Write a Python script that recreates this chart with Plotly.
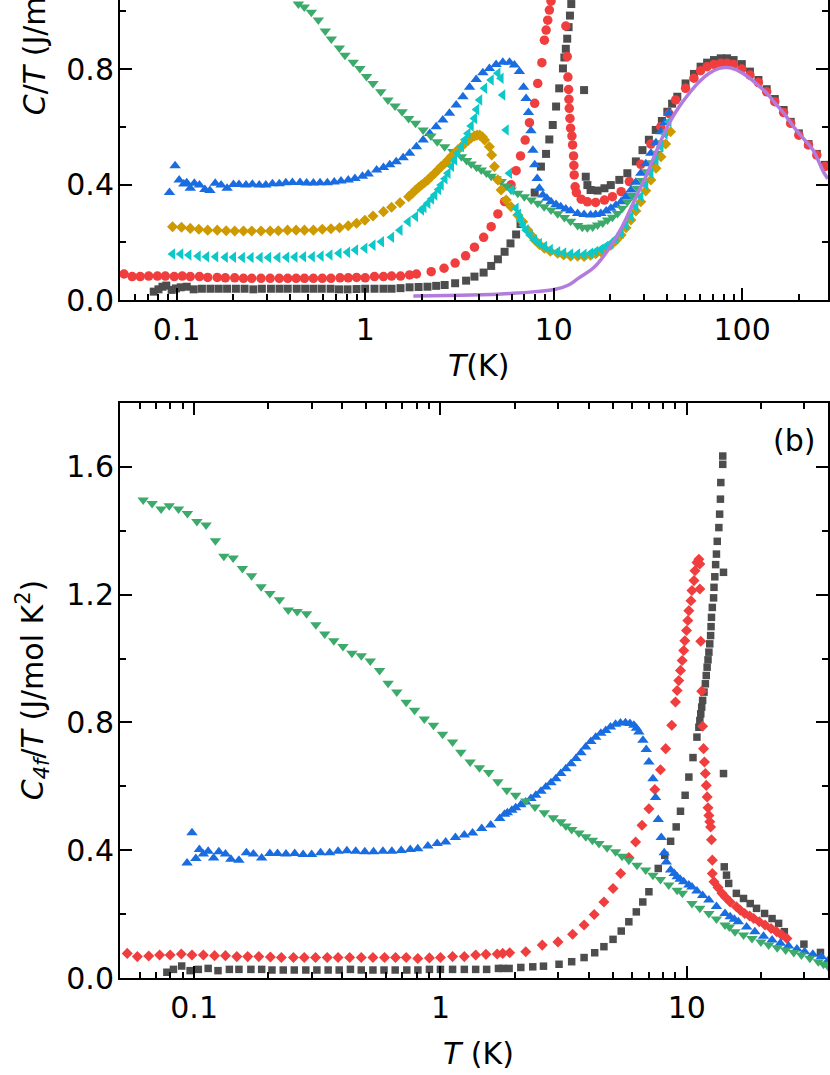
import numpy as np
import plotly.graph_objects as go

GRAY = "#4D4D4D"
RED = "#F03E3E"
BLUE = "#1A6DE0"
GREEN = "#3BAA6A"
GOLD = "#CE9A00"
CYAN = "#0CC8C8"
PURPLE = "#B27BDE"
FONT = "DejaVu Sans, Arial, sans-serif"

# ---- panel (a): C/T vs T ----
gray_a_T = [0.0755, 0.080, 0.084, 0.088, 0.094, 0.099, 0.105, 0.113, 0.123, 0.136, 0.151, 0.167,
            0.185, 0.206, 0.229, 0.255, 0.283, 0.316, 0.351, 0.388, 0.433, 0.480, 0.531, 0.588,
            0.655, 0.726, 0.806, 0.90, 1.0, 1.12, 1.25, 1.38, 1.54, 1.72, 1.92, 2.14, 2.38, 2.64,
            3.0, 3.43, 3.80, 4.25, 4.66, 5.06, 5.49, 5.90, 6.32, 6.67, 7.93, 8.56, 9.11, 9.48,
            9.89, 10.3, 10.7, 11.2, 11.4, 11.6, 11.8, 12.0, 12.2, 12.4, 14.5,
            14.8, 15.1, 15.7, 17.1, 18.6, 20.1, 22.3, 24.6, 27.3, 29.6, 32.0, 34.8, 37.5, 40.1,
            42.5, 45.3, 50.1, 55.5, 60.2, 65.2, 70.9, 77.0, 83.2, 90.1, 99.6, 110, 122, 135, 149,
            166, 181, 200, 225, 249, 275]
gray_a_C = [0.029, 0.037, 0.046, 0.050, 0.035, 0.040, 0.044, 0.046, 0.037, 0.039, 0.039, 0.039,
            0.039, 0.039, 0.039, 0.037, 0.039, 0.039, 0.039, 0.039, 0.039, 0.039, 0.039, 0.039,
            0.039, 0.037, 0.037, 0.038, 0.039, 0.039, 0.039, 0.039, 0.041, 0.044, 0.045, 0.046,
            0.049, 0.052, 0.058, 0.067, 0.081, 0.095, 0.118, 0.141, 0.167, 0.196, 0.227, 0.263,
            0.372, 0.462, 0.506, 0.556, 0.606, 0.670, 0.733, 0.802, 0.840, 0.870, 0.905, 0.945,
            0.985, 1.025, 0.727,
            0.427, 0.398, 0.381, 0.379, 0.387, 0.398, 0.416, 0.439, 0.480, 0.519, 0.555, 0.589,
            0.620, 0.652, 0.680, 0.704, 0.750, 0.783, 0.808, 0.822, 0.831, 0.837, 0.837, 0.831,
            0.817, 0.791, 0.762, 0.730, 0.696, 0.658, 0.617, 0.577, 0.540, 0.506, 0.468]

red_a_T = [0.0525, 0.058, 0.064, 0.071, 0.079, 0.087, 0.097, 0.107, 0.118, 0.132, 0.146, 0.164,
           0.181, 0.203, 0.226, 0.250, 0.280, 0.313, 0.350, 0.388, 0.430, 0.476, 0.531, 0.592,
           0.658, 0.735, 0.813, 0.90, 1.0, 1.12, 1.25, 1.38, 1.54, 1.72, 1.87, 2.24, 2.62, 3.0,
           3.41, 3.80, 4.25, 4.66, 5.06, 5.49, 5.94, 6.32, 6.67, 7.06, 7.44, 7.93, 8.23, 8.66,
           8.93, 9.12, 9.30, 9.49, 9.68,
           11.6, 11.8, 11.9, 12.0, 12.05, 12.1, 12.2, 12.3, 12.5, 12.6, 12.75, 12.8, 12.85, 13.0,
           13.2, 14.0, 15.1, 16.7, 18.6, 20.5, 22.8, 25.2, 29.0, 32.8, 37.0, 41.0, 44.4, 50.1,
           55.5, 60.2, 65.2, 70.9, 77.0, 83.2, 90.1, 99.6, 110, 122, 135, 149, 166, 181, 200,
           225, 249, 275]
red_a_C = [0.090, 0.081, 0.081, 0.083, 0.083, 0.083, 0.081, 0.083, 0.081, 0.081, 0.078, 0.078,
           0.077, 0.077, 0.075, 0.075, 0.075, 0.075, 0.075, 0.075, 0.075, 0.075, 0.075, 0.075,
           0.075, 0.077, 0.077, 0.078, 0.077, 0.081, 0.081, 0.083, 0.083, 0.087, 0.090, 0.098,
           0.110, 0.128, 0.153, 0.183, 0.217, 0.254, 0.298, 0.341, 0.399, 0.448, 0.499, 0.554,
           0.614, 0.681, 0.750, 0.822, 0.900, 0.935, 0.969, 1.004, 1.035,
           0.949, 0.843, 0.772, 0.729, 0.695, 0.664, 0.629, 0.595, 0.568, 0.537, 0.499, 0.466,
           0.433, 0.392, 0.372, 0.349, 0.340, 0.338, 0.346, 0.358, 0.375, 0.410, 0.470, 0.540,
           0.600, 0.645, 0.693, 0.733, 0.768, 0.794, 0.808, 0.816, 0.820, 0.820, 0.816, 0.800,
           0.779, 0.753, 0.721, 0.687, 0.649, 0.612, 0.571, 0.537, 0.502, 0.462]

blue_a_T = [0.0915, 0.098, 0.103, 0.109, 0.113, 0.118, 0.124, 0.132, 0.141, 0.150, 0.160, 0.172,
            0.185, 0.200, 0.214, 0.233, 0.252, 0.274, 0.297, 0.322, 0.350, 0.379, 0.411, 0.451,
            0.489, 0.531, 0.576, 0.630, 0.685, 0.744, 0.813, 0.882, 0.967, 1.037, 1.15, 1.25,
            1.35, 1.46, 1.59, 1.72, 1.87, 2.03, 2.20, 2.38, 2.58, 2.80, 3.04, 3.30, 3.58, 3.88,
            4.21, 4.56, 4.95, 5.37, 5.83, 6.19, 6.58, 6.92, 7.14, 7.35, 7.58, 7.76, 7.93, 8.17,
            8.40, 8.76, 9.2, 9.68, 10.3, 10.9, 11.6, 12.3, 13.4, 14.5, 15.7, 16.7, 17.8, 19.0,
            20.1, 21.4, 22.8, 24.2, 25.7, 27.3, 29.0, 30.8, 32.8, 34.9, 37.1, 39.0, 40.9]
blue_a_C = [0.372, 0.465, 0.416, 0.402, 0.406, 0.387, 0.404, 0.398, 0.383, 0.379, 0.404, 0.398,
            0.387, 0.400, 0.400, 0.398, 0.401, 0.398, 0.398, 0.403, 0.403, 0.406, 0.407, 0.407,
            0.405, 0.405, 0.406, 0.406, 0.409, 0.412, 0.416, 0.421, 0.429, 0.436, 0.450, 0.459,
            0.468, 0.479, 0.493, 0.508, 0.531, 0.554, 0.577, 0.600, 0.623, 0.647, 0.675, 0.704,
            0.737, 0.764, 0.787, 0.802, 0.816, 0.823, 0.823, 0.814, 0.791, 0.737, 0.698, 0.649,
            0.586, 0.519, 0.468, 0.421, 0.387, 0.364, 0.352, 0.340, 0.331, 0.323, 0.315, 0.309,
            0.300, 0.296, 0.294, 0.296, 0.300, 0.308, 0.318, 0.328, 0.340, 0.358, 0.381, 0.408,
            0.439, 0.472, 0.508, 0.545, 0.583, 0.615, 0.647]

green_a_T = [0.442, 0.475, 0.518, 0.564, 0.614, 0.661, 0.729, 0.781, 0.864, 0.937, 1.016, 1.10,
             1.21, 1.32, 1.44, 1.57, 1.70, 1.85, 2.03, 2.23, 2.41, 2.64, 2.92, 3.24, 3.45, 3.65,
             3.9, 4.13, 4.4, 4.66, 4.95, 5.26, 5.6, 5.94, 6.45, 6.99, 7.6, 8.23, 8.9, 9.68, 10.5,
             11.4, 12.3, 13.4, 14.2, 15.1, 16.1, 17.1, 18.2, 19.3, 20.5, 21.8, 23.1, 24.6, 26.1,
             27.8, 29.5, 31.4, 33.4, 35.5, 37.7, 40.1]
green_a_C = [1.025, 1.015, 0.997, 0.970, 0.932, 0.904, 0.873, 0.848, 0.823, 0.802, 0.774, 0.750,
             0.721, 0.693, 0.672, 0.652, 0.629, 0.612, 0.589, 0.568, 0.548, 0.531, 0.514, 0.496,
             0.483, 0.471, 0.460, 0.450, 0.440, 0.429, 0.420, 0.410, 0.395, 0.381, 0.370, 0.358,
             0.346, 0.335, 0.323, 0.312, 0.299, 0.286, 0.273, 0.258, 0.252, 0.250, 0.253, 0.260,
             0.267, 0.277, 0.287, 0.300, 0.318, 0.340, 0.362, 0.387, 0.414, 0.444, 0.475, 0.508,
             0.545, 0.583]

gold_a_T = [0.095, 0.106, 0.118, 0.131, 0.146, 0.164, 0.183, 0.203, 0.226, 0.250, 0.280, 0.313,
            0.346, 0.387, 0.430, 0.476, 0.531, 0.592, 0.658, 0.731, 0.813, 0.900, 0.996, 1.10,
            1.25, 1.38, 1.53, 1.70, 1.78, 1.85, 1.92, 1.99, 2.07, 2.15, 2.24, 2.34, 2.43, 2.53,
            2.64, 2.75, 2.86, 2.98, 3.1, 3.24, 3.37, 3.51, 3.65, 3.80, 3.92, 4.05, 4.18, 4.30,
            4.56, 4.69, 4.85, 5.06, 5.26, 5.60, 5.94, 6.45, 6.85, 7.29, 7.6, 7.93, 8.4, 8.93, 9.6,
            10.5, 11.3, 12.3, 13.4, 14.5, 15.7, 16.7, 17.8, 18.9, 20.1, 21.4, 22.8, 24.2, 25.7,
            27.3, 29.0, 30.8, 32.8, 34.9, 37.1, 39.3, 41.7]
gold_a_C = [0.254, 0.252, 0.248, 0.245, 0.242, 0.242, 0.240, 0.239, 0.239, 0.239, 0.239, 0.239,
            0.240, 0.242, 0.242, 0.242, 0.242, 0.245, 0.247, 0.250, 0.257, 0.266, 0.276, 0.291,
            0.306, 0.321, 0.337, 0.358, 0.370, 0.381, 0.390, 0.398, 0.407, 0.416, 0.428, 0.439,
            0.450, 0.462, 0.473, 0.485, 0.497, 0.508, 0.520, 0.531, 0.542, 0.552, 0.561, 0.568,
            0.571, 0.571, 0.565, 0.554, 0.531, 0.502, 0.462, 0.416, 0.381, 0.346, 0.323, 0.294,
            0.271, 0.242, 0.224, 0.208, 0.192, 0.179, 0.169, 0.162, 0.156, 0.152, 0.152, 0.151,
            0.155, 0.160, 0.167, 0.178, 0.190, 0.206, 0.225, 0.250, 0.277, 0.308, 0.340, 0.378,
            0.416, 0.456, 0.496, 0.540, 0.583]

cyan_a_T = [0.095, 0.105, 0.116, 0.130, 0.144, 0.161, 0.181, 0.200, 0.223, 0.248, 0.277, 0.307,
            0.344, 0.383, 0.424, 0.471, 0.524, 0.583, 0.650, 0.726, 0.806, 0.889, 0.996, 1.10,
            1.22, 1.38, 1.53, 1.69, 1.85, 1.99, 2.05, 2.15, 2.25, 2.34, 2.45, 2.53, 2.65, 2.75,
            2.87, 2.98, 3.1, 3.24, 3.38, 3.51, 3.65, 3.80, 3.9, 4.05, 4.30, 4.66, 5.06, 5.26, 5.37,
            5.60, 5.83, 5.99, 6.32, 6.5, 6.67, 6.9, 7.14, 7.5, 7.93, 8.4, 8.93, 9.6, 10.5, 11.3,
            12.3, 13.4, 14.5, 15.7, 16.7, 17.8, 18.9, 20.1, 21.4, 22.8, 24.2, 25.7, 27.3, 29.0,
            30.8, 32.8, 34.9, 37.1, 39.0, 40.9]
cyan_a_C = [0.159, 0.159, 0.156, 0.152, 0.150, 0.150, 0.148, 0.148, 0.147, 0.147, 0.147, 0.147,
            0.147, 0.148, 0.149, 0.150, 0.150, 0.152, 0.156, 0.162, 0.165, 0.173, 0.179, 0.190,
            0.202, 0.217, 0.242, 0.271, 0.289, 0.312, 0.320, 0.335, 0.350, 0.364, 0.383, 0.398,
            0.420, 0.439, 0.463, 0.485, 0.508, 0.531, 0.555, 0.577, 0.603, 0.629, 0.660, 0.693,
            0.733, 0.762, 0.785, 0.768, 0.710, 0.589, 0.439, 0.381, 0.318, 0.297, 0.277, 0.258,
            0.242, 0.225, 0.208, 0.196, 0.185, 0.175, 0.167, 0.163, 0.159, 0.159, 0.158, 0.162,
            0.168, 0.176, 0.185, 0.196, 0.212, 0.231, 0.258, 0.289, 0.322, 0.358, 0.398, 0.439,
            0.485, 0.531, 0.575, 0.617]

purple_a_T = [1.8, 3.65, 6.07, 8.0, 10.2, 12.0, 13.5, 16.5, 19.7, 23.1, 27.4, 31.4, 35.9, 41.0,
              46.4, 52.4, 59.2, 66.9, 75.5, 83.2, 91.9, 104, 117, 133, 149, 169, 190, 215, 238,
              270, 285]
purple_a_C = [0.014, 0.017, 0.023, 0.029, 0.037, 0.052, 0.075, 0.115, 0.179, 0.254, 0.358, 0.439,
              0.531, 0.612, 0.670, 0.716, 0.756, 0.785, 0.802, 0.805, 0.799, 0.779, 0.753, 0.721,
              0.683, 0.641, 0.595, 0.554, 0.519, 0.444, 0.420]

# ---- panel (b): C4f/T vs T ----
gray_b_T = [0.0775, 0.0824, 0.089, 0.0963, 0.104, 0.114, 0.125, 0.139, 0.152, 0.170, 0.188,
            0.207, 0.230, 0.255, 0.284, 0.315, 0.350, 0.388, 0.431, 0.477, 0.532, 0.590, 0.655,
            0.730, 0.810, 0.902, 1.0, 1.12, 1.25, 1.39, 1.54, 1.72, 1.79, 1.90, 2.12, 2.37, 2.62,
            3.03, 3.41, 3.83, 4.23, 4.61, 5.02, 5.42, 5.82, 6.24, 6.63, 7.02, 7.66, 8.14, 8.60,
            9.06, 9.43, 9.85, 10.2, 10.6, 11.0, 11.2, 11.3, 11.4, 11.5, 11.6, 11.75, 11.9, 12.0,
            12.1, 12.2, 12.3, 12.4, 12.5, 12.55, 12.6, 12.7, 12.85, 12.9, 13.0, 13.1, 13.2, 13.3,
            13.5, 13.6, 13.7, 13.75, 14.0, 14.0, 14.1, 14.1,
            14.2, 14.5, 14.8, 15.9, 17.0, 18.1, 19.2, 20.7, 22.2, 23.6, 24.9, 29.9, 34.9]
gray_b_C = [0.018, 0.027, 0.0375, 0.023, 0.027, 0.030, 0.023, 0.027, 0.027, 0.027, 0.027,
            0.025, 0.025, 0.025, 0.025, 0.025, 0.025, 0.025, 0.027, 0.025, 0.025, 0.025, 0.025,
            0.025, 0.025, 0.027, 0.027, 0.027, 0.027, 0.027, 0.027, 0.030, 0.030, 0.030, 0.033,
            0.035, 0.037, 0.043, 0.051, 0.064, 0.079, 0.098, 0.121, 0.147, 0.176, 0.207, 0.238,
            0.270, 0.343, 0.384, 0.428, 0.473, 0.522, 0.572, 0.629, 0.690, 0.754, 0.785, 0.806,
            0.827, 0.848, 0.869, 0.895, 0.921, 0.947, 0.973, 0.996, 1.020, 1.046, 1.072, 1.100,
            1.129, 1.160, 1.190, 1.223, 1.256, 1.294, 1.327, 1.367, 1.410, 1.452, 1.499, 1.551,
            1.608, 1.634, 1.270, 0.640,
            0.348, 0.322, 0.296, 0.265, 0.249, 0.233, 0.218, 0.202, 0.186, 0.171, 0.145, 0.106,
            0.080]

red_b_T = [0.0535, 0.0588, 0.0654, 0.0724, 0.0799, 0.0887, 0.098, 0.109, 0.121, 0.134, 0.149,
           0.165, 0.183, 0.204, 0.226, 0.253, 0.280, 0.311, 0.347, 0.384, 0.428, 0.477, 0.532,
           0.593, 0.657, 0.726, 0.809, 0.902, 1.0, 1.12, 1.25, 1.39, 1.53, 1.70, 1.79, 1.91,
           2.22, 2.59, 3.0, 3.44, 3.83, 4.21, 4.61, 5.02, 5.39, 5.82, 6.20, 6.58, 7.02, 7.42,
           7.82, 8.21, 8.69, 9.0, 9.14, 9.28, 9.43, 9.58, 9.72, 9.82, 9.98, 10.1, 10.2, 10.4,
           10.5, 10.7, 10.8, 11.0, 11.2, 11.3, 11.3, 11.4, 11.5, 11.6, 11.7, 11.8, 11.9, 12.0,
           12.1, 12.2, 12.3, 12.4, 12.5, 12.6, 12.7, 12.7, 12.9, 13.4, 13.9, 14.4, 15.0, 15.9,
           16.5, 17.2, 18.0, 18.7, 19.7, 20.8, 22.0, 23.2, 24.3, 25.5]
red_b_C = [0.077, 0.067, 0.069, 0.072, 0.072, 0.075, 0.072, 0.072, 0.070, 0.070, 0.067,
           0.067, 0.067, 0.066, 0.064, 0.064, 0.064, 0.064, 0.064, 0.064, 0.064, 0.064, 0.064,
           0.064, 0.064, 0.064, 0.061, 0.063, 0.064, 0.067, 0.067, 0.072, 0.074, 0.075, 0.077,
           0.079, 0.082, 0.103, 0.113, 0.137, 0.166, 0.199, 0.238, 0.280, 0.327, 0.377, 0.426,
           0.478, 0.530, 0.590, 0.652, 0.718, 0.791, 0.864, 0.900, 0.931, 0.963, 0.994, 1.025,
           1.056, 1.088, 1.119, 1.150, 1.181, 1.213, 1.244, 1.275, 1.301, 1.311, 1.296, 1.218,
           1.054, 0.898, 0.788, 0.718, 0.676, 0.640, 0.603, 0.567, 0.533, 0.509, 0.489, 0.473,
           0.433, 0.369, 0.327, 0.301, 0.283, 0.265, 0.252, 0.238, 0.223, 0.212, 0.202, 0.194,
           0.186, 0.176, 0.166, 0.155, 0.145, 0.135, 0.124]

blue_b_T = [0.0936, 0.098, 0.1016, 0.105, 0.109, 0.114, 0.120, 0.126, 0.134, 0.141, 0.152,
            0.163, 0.174, 0.188, 0.203, 0.218, 0.236, 0.256, 0.277, 0.300, 0.326, 0.355, 0.384,
            0.417, 0.453, 0.493, 0.535, 0.584, 0.635, 0.693, 0.754, 0.809, 0.889, 0.97, 1.05,
            1.15, 1.25, 1.35, 1.47, 1.60, 1.74, 1.82, 1.87, 1.95, 2.02, 2.12, 2.22, 2.33, 2.44,
            2.56, 2.68, 2.81, 2.94, 3.08, 3.23, 3.39, 3.55, 3.72, 3.89, 4.08, 4.27, 4.48, 4.69,
            4.9, 5.14, 5.38, 5.64, 5.88, 6.10, 6.25, 6.39, 6.64, 6.85, 7.02, 7.29, 7.47, 7.66,
            7.88, 8.10, 8.26, 8.60, 8.9, 9.14, 9.4, 9.72, 10.2, 10.5, 11.0, 11.6, 12.3, 13.2,
            14.3, 15.0, 15.6, 16.2, 17.5, 18.9, 20.5, 22.2, 24.0, 25.9, 28.0, 30.1, 32.5, 35.2,
            37.6]
blue_b_C = [0.360, 0.455, 0.374, 0.402, 0.388, 0.397, 0.376, 0.395, 0.388, 0.372, 0.369,
            0.392, 0.388, 0.376, 0.390, 0.390, 0.388, 0.390, 0.387, 0.387, 0.392, 0.392, 0.397,
            0.398, 0.397, 0.395, 0.395, 0.397, 0.397, 0.399, 0.402, 0.405, 0.413, 0.421, 0.426,
            0.440, 0.448, 0.454, 0.468, 0.479, 0.499, 0.513, 0.517, 0.525, 0.533, 0.542, 0.551,
            0.562, 0.572, 0.585, 0.598, 0.611, 0.624, 0.640, 0.655, 0.671, 0.687, 0.705, 0.723,
            0.740, 0.754, 0.766, 0.775, 0.786, 0.794, 0.798, 0.799, 0.797, 0.791, 0.782, 0.770,
            0.744, 0.715, 0.676, 0.624, 0.565, 0.496, 0.440, 0.392, 0.363, 0.338, 0.327, 0.317,
            0.309, 0.301, 0.291, 0.285, 0.272, 0.258, 0.244, 0.224, 0.202, 0.192, 0.184, 0.176,
            0.160, 0.145, 0.131, 0.119, 0.109, 0.100, 0.091, 0.082, 0.074, 0.067, 0.056]

green_b_T = [0.0621, 0.0675, 0.0734, 0.0792, 0.0864, 0.0939, 0.1026, 0.1118, 0.122, 0.132,
             0.144, 0.157, 0.171, 0.187, 0.203, 0.222, 0.241, 0.262, 0.286, 0.312, 0.339, 0.369,
             0.402, 0.437, 0.477, 0.519, 0.566, 0.613, 0.665, 0.726, 0.785, 0.86, 0.937, 1.02,
             1.12, 1.21, 1.32, 1.44, 1.57, 1.71, 1.86, 2.02, 2.22, 2.42, 2.64, 2.87, 3.08, 3.23,
             3.41, 3.65, 3.89, 4.14, 4.40, 4.75, 5.14, 5.46, 5.82, 6.28, 6.81, 7.29, 7.82, 8.45,
             9.14, 9.6, 10.5, 11.3, 12.3, 13.2, 14.3, 14.9, 15.7, 17.0, 18.4, 20.0, 21.5, 23.3,
             25.2, 27.2, 29.2, 31.6, 34.2, 35.9, 37.6]
green_b_C = [1.496, 1.485, 1.468, 1.478, 1.468, 1.454, 1.429, 1.418, 1.369, 1.320,
             1.315, 1.282, 1.259, 1.225, 1.204, 1.184, 1.152, 1.147, 1.140, 1.106, 1.077, 1.056,
             1.038, 1.017, 1.009, 0.992, 0.963, 0.923, 0.895, 0.863, 0.838, 0.811, 0.791, 0.763,
             0.739, 0.707, 0.676, 0.658, 0.643, 0.614, 0.588, 0.572, 0.554, 0.535, 0.517, 0.502,
             0.489, 0.476, 0.465, 0.454, 0.442, 0.431, 0.421, 0.408, 0.395, 0.381, 0.369, 0.353,
             0.338, 0.322, 0.308, 0.291, 0.275, 0.265, 0.233, 0.218, 0.202, 0.185, 0.166, 0.160,
             0.145, 0.135, 0.124, 0.113, 0.103, 0.095, 0.0875, 0.080, 0.072, 0.062, 0.051, 0.043,
             0.035]

TICK_T = [0.1, 1, 10, 100]
TICK_T_TEXT = ["0.1", "1", "10", "100"]
MINOR_T = [m * 10.0 ** e for e in range(-2, 3) for m in range(2, 10)]


def pts(fig, x, y, color, symbol, size, xa, ya):
    fig.add_trace(go.Scatter(
        x=x, y=y, mode="markers", xaxis=xa, yaxis=ya, showlegend=False,
        marker=dict(color=color, symbol=symbol, size=size, line=dict(width=0)),
    ))


fig = go.Figure()

pts(fig, gray_a_T, gray_a_C, GRAY, "square", 8, "x", "y")
pts(fig, red_a_T, red_a_C, RED, "circle", 9.5, "x", "y")
pts(fig, blue_a_T, blue_a_C, BLUE, "triangle-up", 10, "x", "y")
pts(fig, green_a_T, green_a_C, GREEN, "triangle-down", 10, "x", "y")
pts(fig, gold_a_T, gold_a_C, GOLD, "diamond", 8.5, "x", "y")
pts(fig, cyan_a_T, cyan_a_C, CYAN, "triangle-left", 10, "x", "y")
fig.add_trace(go.Scatter(
    x=purple_a_T, y=purple_a_C, mode="lines", xaxis="x", yaxis="y", showlegend=False,
    line=dict(color=PURPLE, width=3.5, shape="spline"),
))

pts(fig, gray_b_T, gray_b_C, GRAY, "square", 7.5, "x2", "y2")
pts(fig, red_b_T, red_b_C, RED, "diamond", 8.5, "x2", "y2")
pts(fig, blue_b_T, blue_b_C, BLUE, "triangle-up", 10, "x2", "y2")
pts(fig, green_b_T, green_b_C, GREEN, "triangle-down", 10, "x2", "y2")

# plot area: 120..830 px wide, 0..978 px tall
W, H = 710, 978
x0 = np.log10(0.05)

axis_common = dict(
    showline=True, linewidth=2, linecolor="black", showgrid=False, zeroline=False,
    ticks="inside", ticklen=12, tickwidth=2, tickcolor="black",
    tickfont=dict(family=FONT, size=30, color="black"),
)
xlog = dict(
    type="log", tickmode="array", tickvals=TICK_T, ticktext=TICK_T_TEXT,
    minor=dict(tickmode="array", tickvals=MINOR_T, ticks="inside", ticklen=6,
               tickwidth=2, tickcolor="black", showgrid=False),
    **axis_common,
)
ylin = dict(
    tick0=0, dtick=0.4, tickformat=".1f", ticklabelstandoff=-2,
    minor=dict(dtick=0.2, ticks="inside", ticklen=6, tickwidth=2, tickcolor="black",
               showgrid=False),
    **axis_common,
)

fig.update_layout(
    width=830, height=1075,
    margin=dict(l=120, r=0, t=0, b=1075 - H),
    paper_bgcolor="white", plot_bgcolor="white",
    xaxis=dict(range=[x0, x0 + W / 189], anchor="y", domain=[0, 1], mirror=False,
               ticklabelstandoff=2, **xlog),
    yaxis=dict(range=[0, 1.039], anchor="x", domain=[1 - 300 / H, 1], mirror="allticks",
               **ylin),
    xaxis2=dict(range=[x0, x0 + W / 247], anchor="y2", domain=[0, 1], mirror="allticks",
                ticklabelstandoff=2, **xlog),
    yaxis2=dict(range=[0, 1.8], anchor="x2", domain=[0, (H - 403) / H], mirror="allticks",
                **ylin),
)


def px_x(p):
    return (p - 120) / W


def px_y(p):
    return (H - p) / H


title_font = dict(family=FONT, size=30, color="black")
fig.add_annotation(text="<i>T</i>(K)", x=px_x(480), y=px_y(366), xref="paper", yref="paper",
                   xanchor="center", yanchor="middle", showarrow=False, font=title_font)
fig.add_annotation(text="<i>T</i> (K)", x=px_x(480), y=px_y(1053), xref="paper", yref="paper",
                   xanchor="center", yanchor="middle", showarrow=False, font=title_font)
fig.add_annotation(text="<i>C</i>/<i>T</i> (J/mol K<sup>2</sup>)", textangle=-90,
                   x=px_x(33), y=px_y(117), xref="paper", yref="paper",
                   xanchor="center", yanchor="bottom", showarrow=False, font=title_font)
fig.add_annotation(text="<i>C</i><sub><i>4f</i></sub>/<i>T</i> (J/mol K<sup>2</sup>)",
                   textangle=-90, x=px_x(33), y=px_y(690), xref="paper", yref="paper",
                   xanchor="center", yanchor="middle", showarrow=False, font=title_font)
fig.add_annotation(text="(b)", x=px_x(796), y=px_y(440), xref="paper", yref="paper",
                   xanchor="center", yanchor="middle", showarrow=False, font=title_font)

fig.write_html(
    "out.html",
    config={"displayModeBar": False},
    post_script="document.body.style.margin='0';document.body.style.overflow='hidden';",
)
